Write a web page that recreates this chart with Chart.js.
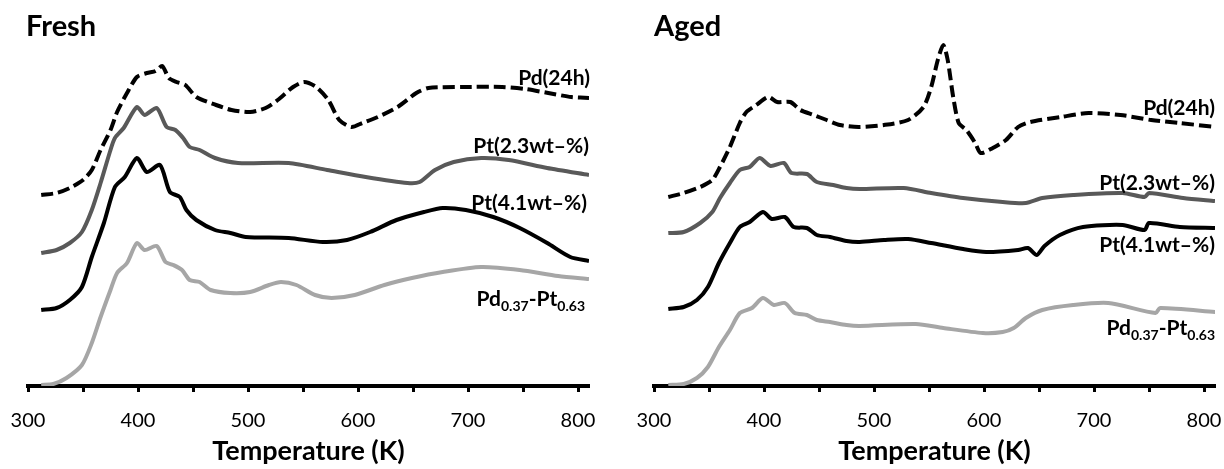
<!DOCTYPE html>
<html>
<head>
<meta charset="utf-8">
<script src="https://cdn.jsdelivr.net/npm/chart.js@4.4.1/dist/chart.umd.min.js"></script>
<style>
  html, body { margin: 0; padding: 0; background: #fff; }
  #wrap { position: relative; width: 1224px; height: 469px; overflow: hidden; font-family: Lato, "Open Sans", sans-serif; }
  canvas { position: absolute; top: 0; }
  .ttl { position: absolute; font-weight: bold; font-size: 29px; line-height: 32px; color: #000; }
  .lbl { position: absolute; font-weight: bold; font-size: 21px; line-height: 24px; color: #000; white-space: nowrap; text-align: right; }
  .lbl sub { font-size: 14px; vertical-align: -5px; line-height: 0; }
</style>
</head>
<body>
<div id="wrap">
  <canvas id="fresh" width="612" height="469" style="left:0"></canvas>
  <canvas id="aged" width="612" height="469" style="left:612px"></canvas>
  <div class="ttl" style="left:26px; top:9px">Fresh</div>
  <div class="ttl" style="left:654px; top:9px">Aged</div>

  <div class="lbl" style="right:634px; top:65px">Pd(24h)</div>
  <div class="lbl" style="right:635px; top:133px">Pt(2.3wt–%)</div>
  <div class="lbl" style="right:637px; top:190px">Pt(4.1wt–%)</div>
  <div class="lbl" style="right:639px; top:286px">Pd<sub>0.37</sub>-Pt<sub>0.63</sub></div>

  <div class="lbl" style="right:9px; top:95px">Pd(24h)</div>
  <div class="lbl" style="right:9px; top:170px">Pt(2.3wt–%)</div>
  <div class="lbl" style="right:9px; top:232px">Pt(4.1wt–%)</div>
  <div class="lbl" style="right:9px; top:315px">Pd<sub>0.37</sub>-Pt<sub>0.63</sub></div>
</div>
<script>
// ---------- DATA (temperature in K, signal in arbitrary units) ----------
const xTicksMajor = [300, 400, 500, 600, 700, 800];

// Fresh
const freshPdT = [312,326,338,350,358,366,375,381,390,399,408,416,422,428,435,443,453,471,485,502,516,527,541,551,562,573,583,594,604,618,636,653,664,696,731,752,773,794,810];
const freshPdV = [191,193,198,206,216,236,256,274,293,309,313,315,320,308,304,301,289,281,276,274,278,286,299,304,299,286,266,259,263,269,279,293,298,299,299,297,293,289,288];

const freshPt23T = [312,326,338,349,358,366,375,379,387,399,406,417,426,434,441,447,456,470,491,537,572,607,645,656,670,687,712,737,772,810];
const freshPt23V = [133,136,143,154,176,203,236,248,258,279,271,278,259,256,248,239,236,228,223,223,216,209,203,204,216,224,228,226,218,211];

const freshPt41T = [312,326,338,349,358,369,379,388,399,408,420,429,438,444,453,470,484,498,537,568,590,611,635,660,677,698,723,747,772,793,810];
const freshPt41V = [76,78,86,99,129,163,199,209,228,214,221,194,189,176,166,156,153,149,148,144,146,154,166,174,178,176,169,158,143,129,125];

const freshPdPtT = [312,323,335,349,358,366,375,381,390,399,406,417,425,432,440,447,456,466,484,502,519,530,544,561,576,597,624,649,677,712,747,782,810];
const freshPdPtV = [1,2,8,21,43,69,96,113,123,143,136,140,124,121,116,106,104,96,93,94,101,104,101,91,88,91,101,108,114,119,116,110,107];

// Aged
const agedPdT = [313,327,342,353,360,369,378,384,393,404,412,424,433,445,457,469,486,509,531,545,552,558,563,567,572,577,584,592,597,608,620,631,642,670,695,724,752,777,811];
const agedPdV = [189,193,199,206,219,239,263,274,281,289,284,284,276,271,266,261,259,261,266,279,299,326,341,326,289,263,256,243,233,238,246,259,264,269,273,271,266,263,259];

const agedPt23T = [313,327,342,353,360,369,378,387,396,406,418,425,439,448,463,475,487,527,552,581,617,638,653,681,726,746,750,781,810];
const agedPt23V = [153,154,163,174,188,203,216,219,228,220,223,213,212,204,201,198,197,198,193,188,184,183,188,191,193,189,193,188,185];

const agedPt41T = [313,327,339,349,359,369,378,387,399,407,419,427,439,448,460,475,487,509,531,552,581,602,631,640,648,655,669,690,726,746,750,778,810];
const agedPt41V = [77,79,86,99,123,143,159,164,174,167,169,159,158,151,149,145,144,146,147,143,137,134,136,138,131,140,151,159,161,156,163,159,158];

const agedPdPtT = [313,327,339,349,359,369,378,389,399,409,419,428,439,448,460,475,487,538,563,599,617,627,638,653,681,713,756,760,811];
const agedPdPtV = [1,2,8,19,39,56,73,78,88,81,83,73,71,66,64,61,60,62,58,53,54,58,68,76,81,83,73,78,74];

// ---------- helpers ----------
function pts(T, V) { return T.map((t, i) => ({ x: t, y: V[i] })); }

function series(T, V, color, dashed) {
  return {
    data: pts(T, V),
    borderColor: color,
    borderWidth: 4,
    borderDash: dashed ? [12, 5] : [],
    borderCapStyle: 'butt',
    borderJoinStyle: 'round',
    pointRadius: 0,
    tension: 0.25,
    fill: false
  };
}

function makeChart(id, sets, padL, padR) {
  return new Chart(document.getElementById(id), {
    type: 'line',
    data: { datasets: sets },
    options: {
      responsive: false,
      devicePixelRatio: 1,
      animation: false,
      events: [],
      layout: { padding: { left: padL, right: padR, top: 36, bottom: 0 } },
      plugins: { legend: { display: false }, tooltip: { enabled: false }, title: { display: false } },
      scales: {
        x: {
          type: 'linear',
          min: 300,
          max: 810,
          afterFit: (s) => { s.height = 83; s.paddingLeft = 0; s.paddingRight = 0; },
          border: { display: true, width: 4, color: '#000' },
          grid: { display: true, drawOnChartArea: false, drawTicks: true, tickLength: 6, tickWidth: 3, tickColor: '#000' },
          ticks: {
            stepSize: 50,
            includeBounds: false,
            autoSkip: false,
            maxRotation: 0,
            padding: 17,
            color: '#000',
            font: { family: 'Lato', size: 20, weight: 'normal' },
            callback: (v) => xTicksMajor.includes(v) ? String(v) : ''
          },
          title: {
            display: true,
            text: 'Temperature (K)',
            color: '#000',
            font: { family: 'Lato', size: 27, weight: 'bold' },
            padding: { top: 0, bottom: 2 }
          }
        },
        y: { display: false, min: 0, max: 350 }
      }
    }
  });
}

makeChart('fresh', [
  series(freshPdT, freshPdV, '#000000', true),
  series(freshPt23T, freshPt23V, '#595959', false),
  series(freshPt41T, freshPt41V, '#000000', false),
  series(freshPdPtT, freshPdPtV, '#a6a6a6', false)
], 28, 23);

makeChart('aged', [
  series(agedPdT, agedPdV, '#000000', true),
  series(agedPt23T, agedPt23V, '#595959', false),
  series(agedPt41T, agedPt41V, '#000000', false),
  series(agedPdPtT, agedPdPtV, '#a6a6a6', false)
], 42, 9);
</script>
</body>
</html>
